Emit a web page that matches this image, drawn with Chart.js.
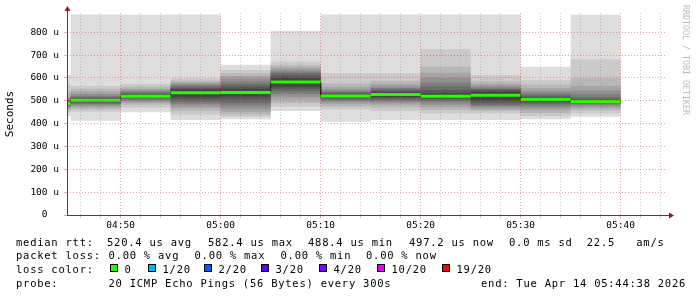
<!DOCTYPE html>
<html>
<head>
<meta charset="utf-8">
<script src="https://cdn.jsdelivr.net/npm/chart.js@4/dist/chart.umd.min.js"></script>
<style>
  html, body { margin: 0; padding: 0; background: #fff; }
  #wrap { position: relative; width: 697px; height: 297px; overflow: hidden; }
  #chart { position: absolute; left: 0; top: 0; }
  .t { position: absolute; font-family: 'DejaVu Sans Mono', monospace; font-size: 10.5px;
       letter-spacing: 0.75px; line-height: 14px; white-space: pre; color: #000; }
  .box { position: absolute; width: 8px; height: 8px; box-sizing: border-box; border: 1px solid #000; }
  #mark { position: absolute; left: 681px; top: 5px; writing-mode: vertical-rl;
          font-family: 'DejaVu Sans Mono', monospace; font-size: 8.3px; line-height: 10px;
          color: #bbb; white-space: pre; }
</style>
</head>
<body>
<div id="wrap">
  <canvas id="chart" width="697" height="297"></canvas>
  <div id="mark">RRDTOOL / TOBI OETIKER</div>
  <div class="t" style="left:16px;top:234.5px">median rtt:</div>
  <div class="t" style="left:107px;top:234.5px">520.4 us avg</div>
  <div class="t" style="left:208px;top:234.5px">582.4 us max</div>
  <div class="t" style="left:308px;top:234.5px">488.4 us min</div>
  <div class="t" style="left:409px;top:234.5px">497.2 us now</div>
  <div class="t" style="left:509px;top:234.5px">0.0 ms sd  22.5   am/s</div>
  <div class="t" style="left:16px;top:248px">packet loss:</div>
  <div class="t" style="left:108.5px;top:248px">0.00 % avg</div>
  <div class="t" style="left:194.5px;top:248px">0.00 % max</div>
  <div class="t" style="left:280.5px;top:248px">0.00 % min</div>
  <div class="t" style="left:366px;top:248px">0.00 % now</div>
  <div class="t" style="left:16px;top:262px">loss color:</div>
  <div id="loss"></div>
  <div class="t" style="left:16px;top:276px">probe:</div>
  <div class="t" style="left:108.5px;top:276px">20 ICMP Echo Pings (56 Bytes) every 300s</div>
  <div class="t" style="left:481px;top:276px">end: Tue Apr 14 05:44:38 2026</div>
</div>
<script>
// smokeping-style latency graph: 20 pings per 5 minute sample

// sample end times (each sample covers the 5 minutes before it)
const sampleEnds = ['04:45', '04:50', '04:55', '05:00', '05:05', '05:10',
                    '05:15', '05:20', '05:25', '05:30', '05:35', '05:40'];
const stepMin = 5;
const graphEnd = '05:44:38';

// median rtt per sample (us)
const medianRtt = [488, 502, 520, 535, 536, 582, 521, 527, 520, 524, 505, 497];

// sorted rtt of the 20 pings per sample (us)
const pings = [
    [433, 448, 458, 465, 470, 475, 479, 483, 486, 487, 489, 493, 496, 500, 505, 512, 522, 540, 570, 613],
    [413, 452, 462, 470, 478, 484, 488, 492, 496, 500, 504, 508, 512, 516, 522, 530, 540, 552, 565, 877],
    [450, 470, 482, 490, 497, 503, 508, 512, 515, 518, 522, 526, 530, 535, 540, 546, 553, 562, 573, 876],
    [416, 440, 455, 468, 478, 487, 495, 505, 515, 528, 542, 550, 556, 562, 568, 574, 580, 588, 598, 877],
    [419, 430, 440, 452, 465, 478, 490, 505, 518, 530, 542, 552, 562, 572, 584, 596, 608, 620, 635, 657],
    [455, 475, 490, 505, 518, 530, 540, 550, 560, 575, 590, 600, 610, 620, 628, 636, 645, 655, 671, 806],
    [408, 462, 475, 485, 493, 500, 506, 511, 515, 519, 523, 527, 532, 537, 543, 550, 560, 575, 620, 877],
    [416, 455, 470, 482, 491, 498, 504, 510, 516, 522, 532, 538, 544, 550, 556, 563, 572, 588, 620, 877],
    [416, 445, 460, 472, 483, 492, 500, 507, 513, 517, 523, 533, 546, 562, 580, 600, 622, 650, 725, 877],
    [416, 445, 455, 463, 470, 477, 484, 492, 502, 516, 532, 540, 547, 553, 558, 565, 573, 585, 613, 877],
    [419, 432, 445, 458, 468, 477, 485, 492, 498, 503, 507, 512, 518, 525, 533, 543, 555, 570, 591, 649],
    [430, 445, 458, 468, 476, 483, 488, 492, 495, 497, 499, 502, 507, 515, 528, 545, 565, 598, 682, 876]
];

const xTickLabels = ['04:50', '05:00', '05:10', '05:20', '05:30', '05:40'];
const yTickValues = [0, 100, 200, 300, 400, 500, 600, 700, 800];
const yTickLabels = ['0', '100 u', '200 u', '300 u', '400 u', '500 u', '600 u', '700 u', '800 u'];
const yMax = 884;

const lossLabels = ['0', '1/20', '2/20', '3/20', '4/20', '10/20', '19/20'];
const lossColors = ['#26ff00', '#00b8ff', '#0059ff', '#5e00ff', '#7e00ff', '#dd00ff', '#ff0000'];

// ---- helpers ----
const toMin = s => {
    const p = s.split(':').map(Number);
    return p[0] * 60 + p[1] + (p[2] || 0) / 60;
};
const xEnd = toMin(graphEnd);
const xStart = xEnd - 60;

// each sample becomes a flat step from its start to its end
function stepPoints(vals) {
    const pts = [];
    sampleEnds.forEach((t, i) => {
        const e = toMin(t);
        pts.push({ x: e - stepMin, y: vals[i] }, { x: e, y: vals[i] });
    });
    return pts;
}

const font = { family: "'DejaVu Sans Mono', monospace", size: 9.5 };
const majorGrid = 'rgba(200, 40, 40, 0.42)';
const minorGrid = 'rgba(130, 130, 130, 0.42)';

// ---- smoke layers ----
const datasets = [];
const half = pings[0].length / 2;
for (let k = 0; k < half; k++) {
    const shade = Math.floor(190 / half * (half - (k + 1))) + 50;
    const col = `rgb(${shade},${shade},${shade})`;
    datasets.push({
        label: 'lo' + k,
        data: stepPoints(pings.map(p => p[k])),
        borderWidth: 0, pointRadius: 0, fill: false,
        order: 100 - k
    });
    datasets.push({
        label: 'hi' + k,
        data: stepPoints(pings.map(p => p[p.length - 1 - k])),
        borderWidth: 0, pointRadius: 0,
        backgroundColor: col, fill: '-1',
        order: 100 - k
    });
}

// median: thin dark line with the verticals, green band on top
datasets.push({
    label: 'median',
    data: stepPoints(medianRtt),
    borderColor: '#202020', borderWidth: 1,
    pointRadius: 0, fill: false, order: 2
});
datasets.push({
    label: 'median loss 0',
    data: stepPoints(medianRtt),
    borderColor: lossColors[0], borderWidth: 3, borderCapStyle: 'butt',
    pointRadius: 0, fill: false, order: 1,
    segment: {
        borderColor: ctx => ctx.p0.parsed.x === ctx.p1.parsed.x ? 'rgba(0,0,0,0)' : undefined
    }
});

// axis lines and arrows
const axisPlugin = {
    id: 'axes',
    afterDraw(chart) {
        const { ctx, chartArea: a } = chart;
        ctx.save();
        ctx.strokeStyle = '#444';
        ctx.lineWidth = 1;
        ctx.beginPath();
        ctx.moveTo(a.left + 0.5, a.bottom);
        ctx.lineTo(a.left + 0.5, a.top - 4);
        ctx.moveTo(a.left, a.bottom + 0.5);
        ctx.lineTo(a.right + 4, a.bottom + 0.5);
        ctx.stroke();
        ctx.fillStyle = '#8b1a1a';
        ctx.beginPath();
        ctx.moveTo(a.left + 0.5, a.top - 7);
        ctx.lineTo(a.left - 2.5, a.top - 2);
        ctx.lineTo(a.left + 3.5, a.top - 2);
        ctx.closePath();
        ctx.fill();
        ctx.beginPath();
        ctx.moveTo(a.right + 7, a.bottom + 0.5);
        ctx.lineTo(a.right + 2, a.bottom - 2.5);
        ctx.lineTo(a.right + 2, a.bottom + 3.5);
        ctx.closePath();
        ctx.fill();
        ctx.restore();
    }
};

new Chart(document.getElementById('chart'), {
    type: 'line',
    data: { datasets },
    plugins: [axisPlugin],
    options: {
        responsive: false,
        animation: false,
        devicePixelRatio: 1,
        layout: { padding: { left: 0, right: 30, top: 13, bottom: 62 } },
        plugins: { legend: { display: false }, tooltip: { enabled: false } },
        elements: { line: { tension: 0 } },
        scales: {
            x: {
                type: 'linear',
                min: xStart,
                max: xEnd,
                afterFit: s => { s.height = 20; },
                afterBuildTicks: s => {
                    const t = [];
                    for (let m = Math.ceil(xStart / 2) * 2; m <= xEnd; m += 2) t.push({ value: m });
                    s.ticks = t;
                },
                ticks: {
                    autoSkip: false, maxRotation: 0, padding: 2, color: '#000', font,
                    callback: v => {
                        const l = xTickLabels.find(s => toMin(s) === v);
                        return l || '';
                    }
                },
                grid: {
                    z: 1,
                    color: c => c.tick && c.tick.value % 10 === 0 ? majorGrid : minorGrid,
                    tickLength: 3
                },
                border: { display: false, dash: [1, 2] }
            },
            y: {
                min: 0,
                max: yMax,
                afterFit: s => { s.width = 67; },
                afterBuildTicks: s => {
                    const t = [];
                    for (let v = 0; v < yMax; v += 50) t.push({ value: v });
                    s.ticks = t;
                },
                ticks: {
                    padding: 5, color: '#000', font,
                    callback: v => {
                        const i = yTickValues.indexOf(v);
                        if (i < 0) return '';
                        return v === 0 ? yTickLabels[i] + '  ' : yTickLabels[i];
                    }
                },
                grid: {
                    z: 1,
                    color: c => c.tick && c.tick.value % 100 === 0 ? majorGrid : minorGrid,
                    tickLength: 3
                },
                border: { display: false, dash: [1, 2] },
                title: {
                    display: true, text: 'Seconds', color: '#000',
                    font: { family: "'DejaVu Sans Mono', monospace", size: 11 },
                    padding: { top: 4, bottom: 0 }
                }
            }
        }
    }
});

// loss colour legend row
const lossBoxX = [110, 148, 204, 261, 319, 377, 442];
const lossDiv = document.getElementById('loss');
lossLabels.forEach((l, i) => {
    const b = document.createElement('div');
    b.className = 'box';
    b.style.left = lossBoxX[i] + 'px';
    b.style.top = '264px';
    b.style.background = lossColors[i];
    lossDiv.appendChild(b);
    const t = document.createElement('div');
    t.className = 't';
    t.style.left = (lossBoxX[i] + 14.5) + 'px';
    t.style.top = '262px';
    t.textContent = l;
    lossDiv.appendChild(t);
});
</script>
</body>
</html>
